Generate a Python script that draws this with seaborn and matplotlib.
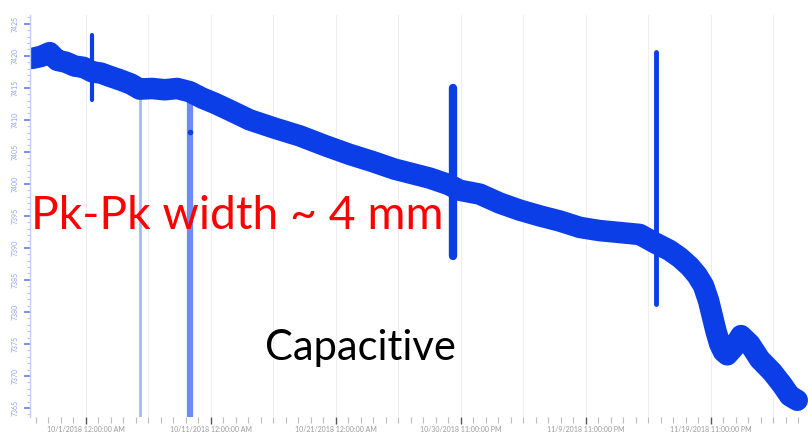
import matplotlib
matplotlib.use('Agg')
import matplotlib.pyplot as plt
import seaborn as sns
import pandas as pd
from matplotlib.ticker import MultipleLocator, FixedLocator, FixedFormatter

# days since 10/1/2018 00:00 and the centre of the reading band
days = [-4.3, -3.6, -2.9, -2.3, -1.6, -0.9, -0.2, 0.5, 1.2, 1.9, 2.8, 3.6, 4.3, 5.3, 6.3,
        7.3, 8.3, 9.3, 10.3, 11.5, 13.1, 15.1, 17.1, 19.1, 21.1, 22.9, 24.7, 26.1, 27.5,
        29.0, 29.9, 31.5, 33.1, 34.7, 36.3, 37.9, 39.5, 41.1, 42.7, 44.3, 45.5, 46.7,
        47.5, 48.3, 48.9, 49.4, 49.8, 50.1, 50.4, 50.7, 51.0, 51.3, 51.8, 52.4, 53.1,
        53.9, 54.9, 55.7, 56.3, 56.9]
center = [7419.6, 7419.9, 7420.5, 7419.3, 7419.0, 7418.4, 7418.2, 7417.5, 7417.3, 7416.8,
          7416.2, 7415.6, 7414.8, 7414.9, 7414.7, 7414.9, 7414.4, 7413.4, 7412.6, 7411.5,
          7410.0, 7408.7, 7407.5, 7406.0, 7404.6, 7403.5, 7402.3, 7401.6, 7400.9, 7399.9,
          7399.0, 7398.4, 7397.0, 7395.9, 7395.0, 7394.2, 7393.2, 7392.7, 7392.4, 7392.1,
          7390.8, 7389.6, 7388.5, 7387.1, 7385.7, 7384.1, 7381.8, 7379.4, 7377.0, 7375.0,
          7373.8, 7373.3, 7374.4, 7376.3, 7375.0, 7372.6, 7370.6, 7368.6, 7366.9, 7366.2]

# short spikes in the reading
spike_days = [0.48, 29.36, 45.6]
spike_lo = [7413.1, 7388.8, 7381.3]
spike_hi = [7423.3, 7415.0, 7420.6]

# dropouts (light lines to the bottom)
drop_days = [4.32, 8.32]
drop_top = [7414.2, 7415.2]

tick_days = [0, 10, 20, 30, 40, 50]
tick_labels = ['10/1/2018 12:00:00 AM', '10/11/2018 12:00:00 AM', '10/21/2018 12:00:00 AM',
               '10/30/2018 11:00:00 PM', '11/9/2018 11:00:00 PM', '11/19/2018 11:00:00 PM']
y_ticks = [7365, 7370, 7375, 7380, 7385, 7390, 7395, 7400, 7405, 7410, 7415, 7420, 7425]

df = pd.DataFrame({'day': days, 'value': center})

sns.set_style("white")
plt.rcParams['font.family'] = ['Lato', 'DejaVu Sans']

blue = '#0b3ee6'
fig = plt.figure(figsize=(8.08, 4.37), dpi=100)
ax = fig.add_axes([0.037, 0.046, 0.963, 0.920])

# dropouts
ax.vlines(drop_days[0], 7363.0, drop_top[0], color='#5f7ff5', alpha=0.55, lw=2)
ax.vlines(drop_days[1], 7363.0, drop_top[1], color='#3d63f0', alpha=0.75, lw=4.5)
ax.plot(drop_days[1], 7408.1, 'o', color=blue, ms=3)

sns.lineplot(data=df, x='day', y='value', ax=ax, color=blue, linewidth=15.5,
             solid_capstyle='round', solid_joinstyle='round')

ax.vlines(spike_days, spike_lo, spike_hi, color=blue, lw=[3, 6, 3.5], capstyle='round')

ax.set_xlim(-4.48, 57.76)
ax.set_ylim(7363.6, 7426.4)
ax.set_xlabel('')
ax.set_ylabel('')

# axes and ticks
ax.xaxis.set_major_locator(FixedLocator(tick_days))
ax.xaxis.set_major_formatter(FixedFormatter(tick_labels))
ax.xaxis.set_minor_locator(MultipleLocator(1))
ax.yaxis.set_major_locator(FixedLocator(y_ticks))
ax.yaxis.set_minor_locator(MultipleLocator(1))
for d in range(-5, 60, 5):
    ax.axvline(d, color='#eeeeee', lw=0.8, zorder=0)

ax.tick_params(axis='x', which='major', length=5, width=1, color='#555555',
               labelsize=5, labelcolor='#9a9a9a', pad=1.5)
ax.tick_params(axis='x', which='minor', length=4.5, width=0.8, color='#bbbbbb')
ax.tick_params(axis='y', which='major', length=4, width=1.2, color='#5f7ff5',
               labelsize=5, labelcolor='#8ea2f5', pad=4)
ax.tick_params(axis='y', which='minor', length=2.5, width=0.6, color='#9fb2f7')
ax.tick_params(bottom=True, left=True, which='both')
for lab in ax.get_yticklabels():
    lab.set_rotation(90)
    lab.set_va('center')

for s in ['top', 'right', 'bottom']:
    ax.spines[s].set_visible(False)
ax.spines['left'].set_color('#c5d0fa')
ax.spines['left'].set_linewidth(1)

# annotations
ax.text(0.001, 0.5, 'Pk-Pk width ~ 4 mm', transform=ax.transAxes, color='#ff0000',
        fontsize=33.3, va='center', ha='left')
ax.text(0.302, 0.172, 'Capacitive', transform=ax.transAxes, color='black',
        fontsize=30, va='center', ha='left')

plt.savefig('out.png', dpi=100)
